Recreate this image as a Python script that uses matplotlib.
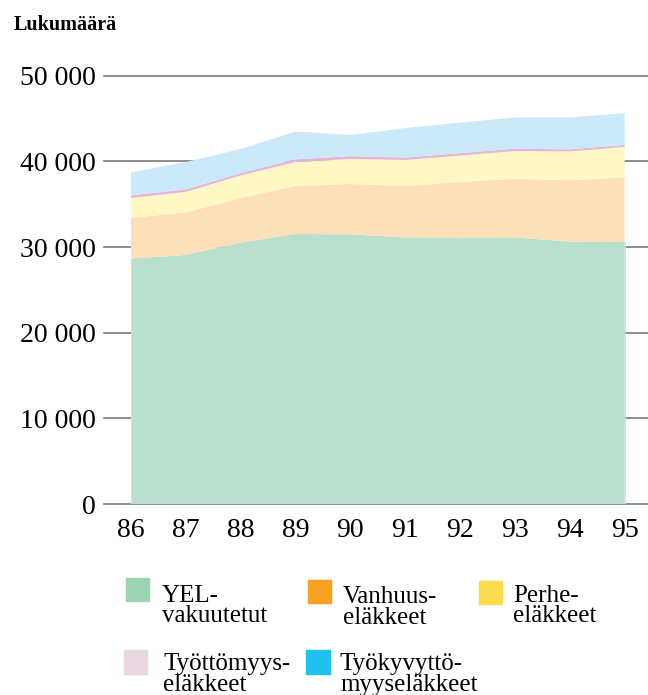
import matplotlib
matplotlib.use("Agg")
import matplotlib.pyplot as plt
from matplotlib.patches import Rectangle

years = [86, 87, 88, 89, 90, 91, 92, 93, 94, 95]
year_labels = ["86", "87", "88", "89", "90", "91", "92", "93", "94", "95"]
yel = [28640, 29080, 30520, 31520, 31480, 31120, 31040, 31120, 30640, 30600]
vanhuus = [4760, 4960, 5200, 5600, 5880, 6000, 6560, 6840, 7160, 7520]
perhe = [2320, 2400, 2640, 2800, 2920, 3040, 3080, 3240, 3360, 3560]
tyottomyys = [320, 280, 280, 320, 320, 280, 280, 280, 240, 240]
tyokyvyttomyys = [2680, 3200, 2800, 3240, 2480, 3440, 3560, 3640, 3720, 3720]
y_ticks = [0, 10000, 20000, 30000, 40000, 50000]
y_tick_labels = ["0", "10 000", "20 000", "30 000", "40 000", "50 000"]
series_labels = ["YEL-\nvakuutetut", "Vanhuus-\neläkkeet", "Perhe-\neläkkeet",
                 "Työttömyys-\neläkkeet", "Työkyvyttö-\nmyyseläkkeet"]

fill_colors = ["#b9e0cd", "#fde0b8", "#fff8c5", "#e6b6d8", "#cce9f9"]
legend_colors = ["#9dd4b0", "#f7a11f", "#fedc4f", "#ead6e0", "#1fc1f0"]

plt.rcParams["font.family"] = ["Liberation Serif", "DejaVu Serif"]

W, H = 648, 695
fig = plt.figure(figsize=(W / 100, H / 100), dpi=100)
ax = fig.add_axes([104 / W, 1 - 504 / H, (W - 104) / W, (504 - 75.7) / H])

xl = 86 - 27 / 54.85
xr = 95 + 23.3 / 54.85
ax.set_xlim(xl, xr)
ax.set_ylim(0, 50000)

for yv in y_ticks:
    ax.axhline(yv, color="#7a7a7a", lw=1.2, zorder=1, clip_on=False)

ax.stackplot(years, yel, vanhuus, perhe, tyottomyys, tyokyvyttomyys,
             colors=fill_colors, linewidth=0, zorder=2)
ax.plot([86, 86], [0, yel[0]], color="#e2dbbf", lw=0.7, zorder=3)
ax.plot([95, 95], [0, yel[-1]], color="#e2dbbf", lw=0.7, zorder=3)
ax.plot([86, 95], [0, 0], color="#e2dbbf", lw=0.7, zorder=3)

for s in ax.spines.values():
    s.set_visible(False)
ax.set_yticks(y_ticks)
ax.set_yticklabels(y_tick_labels, fontsize=20)
ax.set_xticks(years)
ax.set_xticklabels(year_labels, fontsize=20)
ax.tick_params(axis="both", length=0)
ax.tick_params(axis="y", pad=6)
ax.tick_params(axis="x", pad=10)

fig.text(14 / W, 1 - 25 / H, "Lukumäärä", fontsize=14.5, fontweight="bold",
         va="center", ha="left")

# legend: (square x, square y, text x, last-line baseline y)
pos = [(125.5, 577.5, 161.5, 622.5), (307.5, 579.5, 343, 623.5),
       (478.5, 580.5, 513, 622.5),
       (123.5, 650, 163, 691), (306, 650, 340, 691)]
for (sx, sy, tx, ty), col, lab in zip(pos, legend_colors, series_labels):
    fig.patches.append(Rectangle((sx / W, 1 - (sy + 23.5) / H), 23.5 / W, 23.5 / H,
                                 transform=fig.transFigure, color=col))
    fig.text(tx / W, 1 - ty / H, lab, fontsize=18, va="baseline", ha="left",
             linespacing=0.92)

fig.savefig("out.png", dpi=100)
